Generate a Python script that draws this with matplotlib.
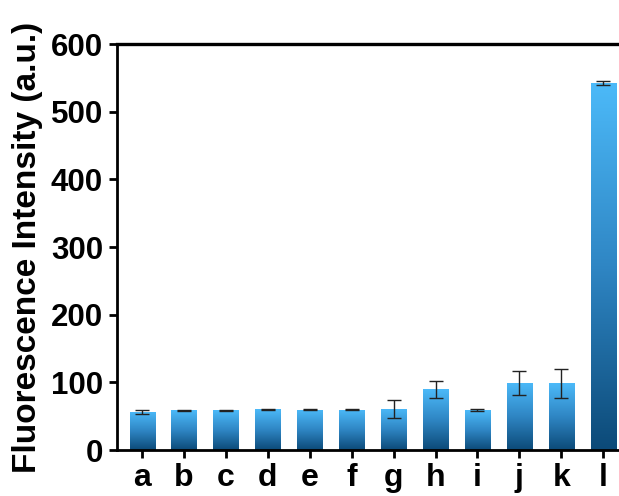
import numpy as np
import matplotlib
matplotlib.use("Agg")
import matplotlib.pyplot as plt
from matplotlib.colors import LinearSegmentedColormap

categories = ["a", "b", "c", "d", "e", "f", "g", "h", "i", "j", "k", "l"]
values = [56.5, 58.5, 58.5, 60, 59.5, 59.5, 61, 90, 59, 99.5, 98.5, 543]
errors = [3, 1, 0.5, 1, 0.5, 0.5, 13.5, 12.5, 1, 17.5, 22, 3]
yticks = [0, 100, 200, 300, 400, 500, 600]

plt.rcParams['font.family'] = ['Liberation Sans', 'DejaVu Sans']

fig = plt.figure(figsize=(6.19, 4.96), dpi=100)
ax = fig.add_axes([0.189, 0.0927, 1.015 - 0.189, 0.911 - 0.0927])

x = np.arange(len(categories))
width = 0.6
bars = ax.bar(x, values, width=width, color='none', edgecolor='none', zorder=2)
cmap = LinearSegmentedColormap.from_list('g', ['#0c4a78', '#2f86c4', '#4cbaf9'])
grad = np.linspace(0, 1, 256).reshape(-1, 1)
for b in bars:
    x0, y0 = b.get_x(), b.get_y()
    w, h = b.get_width(), b.get_height()
    im = ax.imshow(grad, cmap=cmap, origin='lower', aspect='auto',
                   extent=[x0, x0 + w, y0, y0 + h], zorder=2)
    im.set_clip_path(b)
ax.errorbar(x, values, yerr=errors, fmt='none', ecolor='#222222',
            elinewidth=1.0, capsize=5, capthick=1.0, zorder=3)

ax.set_xlim(-0.6, len(categories) - 1 + 0.6)
ax.set_ylim(0, 600)
ax.set_yticks(yticks)
ax.set_xticks(x)
ax.set_xticklabels(categories)
for lab in ax.get_yticklabels():
    lab.set_fontweight('bold')
    lab.set_fontsize(22.5)
for lab in ax.get_xticklabels():
    lab.set_fontweight('bold')
    lab.set_fontsize(23)
ax.set_ylabel('Fluorescence Intensity (a.u.)', fontsize=24, fontweight='bold', labelpad=6)

for s in ['left', 'bottom']:
    ax.spines[s].set_linewidth(2.0)
ax.spines['top'].set_linewidth(2.4)
ax.spines['right'].set_visible(False)
ax.tick_params(axis='both', direction='out', width=2.0, length=6)
ax.tick_params(axis='x', pad=3)
ax.tick_params(axis='y', pad=4)

fig.savefig('out.png', dpi=100)
